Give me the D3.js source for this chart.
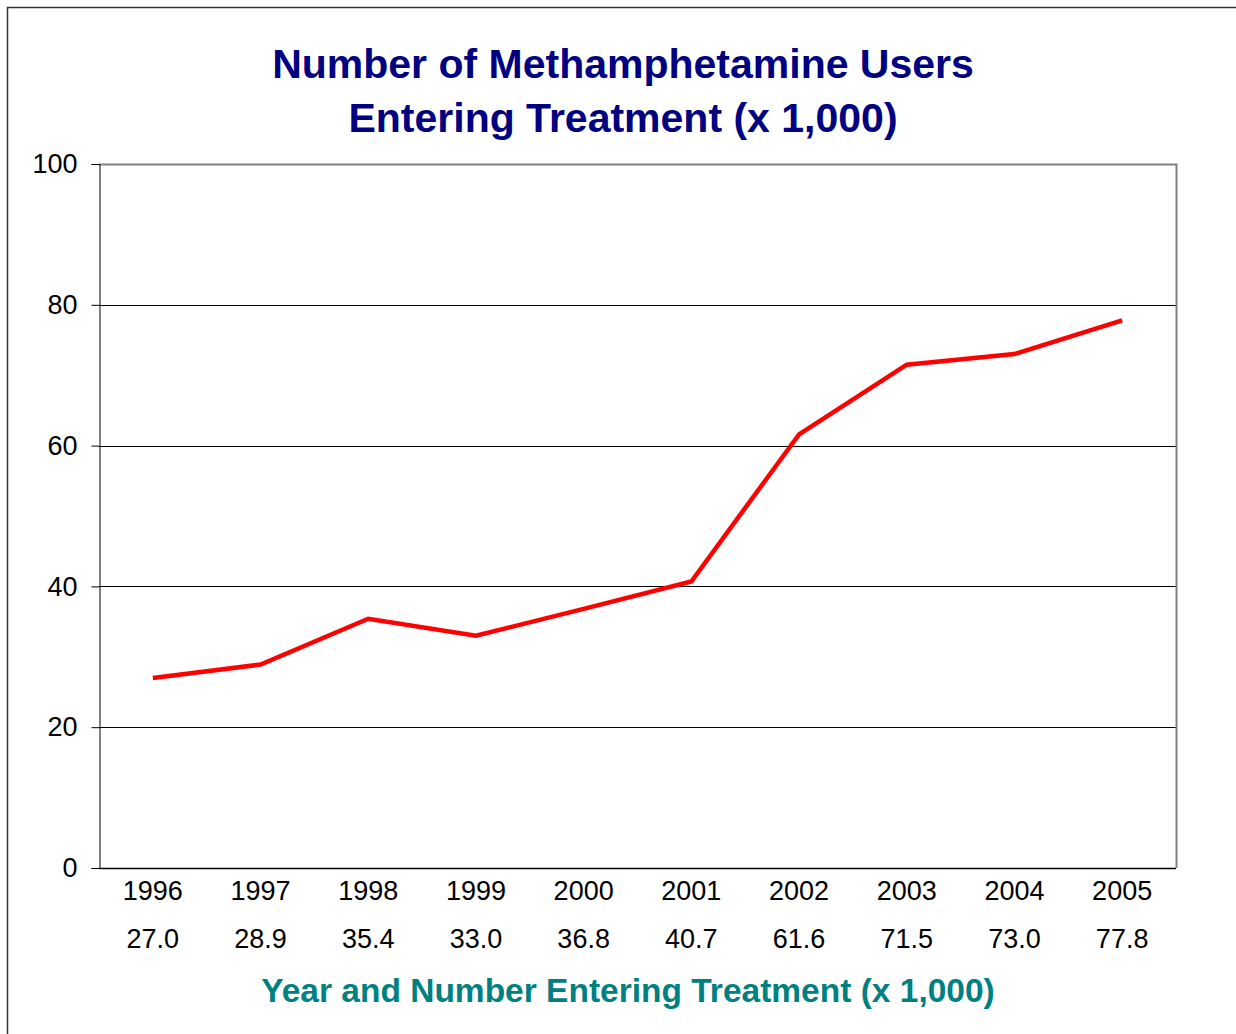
<!DOCTYPE html>
<html>
<head>
<meta charset="utf-8">
<script src="https://cdn.jsdelivr.net/npm/d3@7"></script>
<style>
  body { margin: 0; background: #fff; }
  text { font-family: "Liberation Sans", Arial, sans-serif; }
</style>
</head>
<body>
<div class="chart"></div>
<script>
var years = ['1996', '1997', '1998', '1999', '2000', '2001', '2002', '2003', '2004', '2005']
var users = [27.0, 28.9, 35.4, 33.0, 36.8, 40.7, 61.6, 71.5, 73.0, 77.8]
var yTicks = [0, 20, 40, 60, 80, 100]
var titleLines = ['Number of Methamphetamine Users', 'Entering Treatment (x 1,000)']
var xTitle = 'Year and Number Entering Treatment (x 1,000)'

var W = 1236, H = 1034
var margin = {top: 164, right: 60, bottom: 166, left: 99}
var width = 1176 - margin.left
var height = 868 - margin.top

var data = years.map(function(y, i) { return {year: y, value: users[i]} })

var svg = d3.select('.chart')
  .append('svg')
  .attr('width', W)
  .attr('height', H)

// outer frame (runs off the right and bottom edges)
svg.append('rect')
  .attr('x', 7.5).attr('y', 7.5)
  .attr('width', W + 10).attr('height', H + 10)
  .style('fill', 'none')
  .style('stroke', '#333')
  .style('stroke-width', 1.5)

var g = svg.append('g')
  .attr('transform', 'translate(' + margin.left + ',' + margin.top + ')')

var x = d3.scaleBand().domain(years).range([0, width])
var y = d3.scaleLinear().domain([0, 100]).range([height, 0])

// gridlines
g.selectAll('.grid')
  .data(yTicks.filter(function(t) { return t > 0 && t < 100 }))
  .enter().append('line')
  .attr('x1', 0).attr('x2', width)
  .attr('y1', function(d) { return Math.round(y(d)) + 0.5 })
  .attr('y2', function(d) { return Math.round(y(d)) + 0.5 })
  .style('stroke', '#000')
  .style('stroke-width', 1)

// top and right border of plot area
g.append('path')
  .attr('d', 'M0,0.5H' + (width + 0.5) + 'V' + height)
  .style('fill', 'none')
  .style('stroke', '#808080')
  .style('stroke-width', 2)

// y axis
var yAxis = g.append('g')
  .attr('transform', 'translate(0.5,0)')
  .call(d3.axisLeft(y).tickValues(yTicks).tickSize(8).tickPadding(14))
yAxis.selectAll('text')
  .style('font-size', '27px')
  .style('fill', '#000')
yAxis.selectAll('line, path').style('stroke', '#000')

// x axis line
g.append('line')
  .attr('x1', 0).attr('x2', width)
  .attr('y1', height + 0.5).attr('y2', height + 0.5)
  .style('stroke', '#000')
  .style('stroke-width', 1.5)

// category labels: year and value
var labels = g.selectAll('.xlab')
  .data(data)
  .enter().append('g')
  .attr('transform', function(d) {
    return 'translate(' + (x(d.year) + x.bandwidth() / 2) + ',' + height + ')'
  })
labels.append('text')
  .attr('y', 32)
  .style('text-anchor', 'middle')
  .style('font-size', '27px')
  .text(function(d) { return d.year })
labels.append('text')
  .attr('y', 80)
  .style('text-anchor', 'middle')
  .style('font-size', '27px')
  .text(function(d) { return d.value.toFixed(1) })

// line
var line = d3.line()
  .x(function(d) { return x(d.year) + x.bandwidth() / 2 })
  .y(function(d) { return y(d.value) })
g.append('path')
  .datum(data)
  .attr('d', line)
  .style('fill', 'none')
  .style('stroke', '#ff0000')
  .style('stroke-width', 4.5)
  .style('stroke-linejoin', 'miter')

// title
svg.selectAll('.title')
  .data(titleLines)
  .enter().append('text')
  .attr('x', 623)
  .attr('y', function(d, i) { return 78 + i * 54 })
  .style('text-anchor', 'middle')
  .style('font-size', '41px')
  .style('font-weight', 'bold')
  .style('fill', '#000080')
  .text(function(d) { return d })

// x axis title
svg.append('text')
  .attr('x', 628)
  .attr('y', 1002)
  .style('text-anchor', 'middle')
  .style('font-size', '33.5px')
  .style('font-weight', 'bold')
  .style('fill', '#008080')
  .text(xTitle)
</script>
</body>
</html>
